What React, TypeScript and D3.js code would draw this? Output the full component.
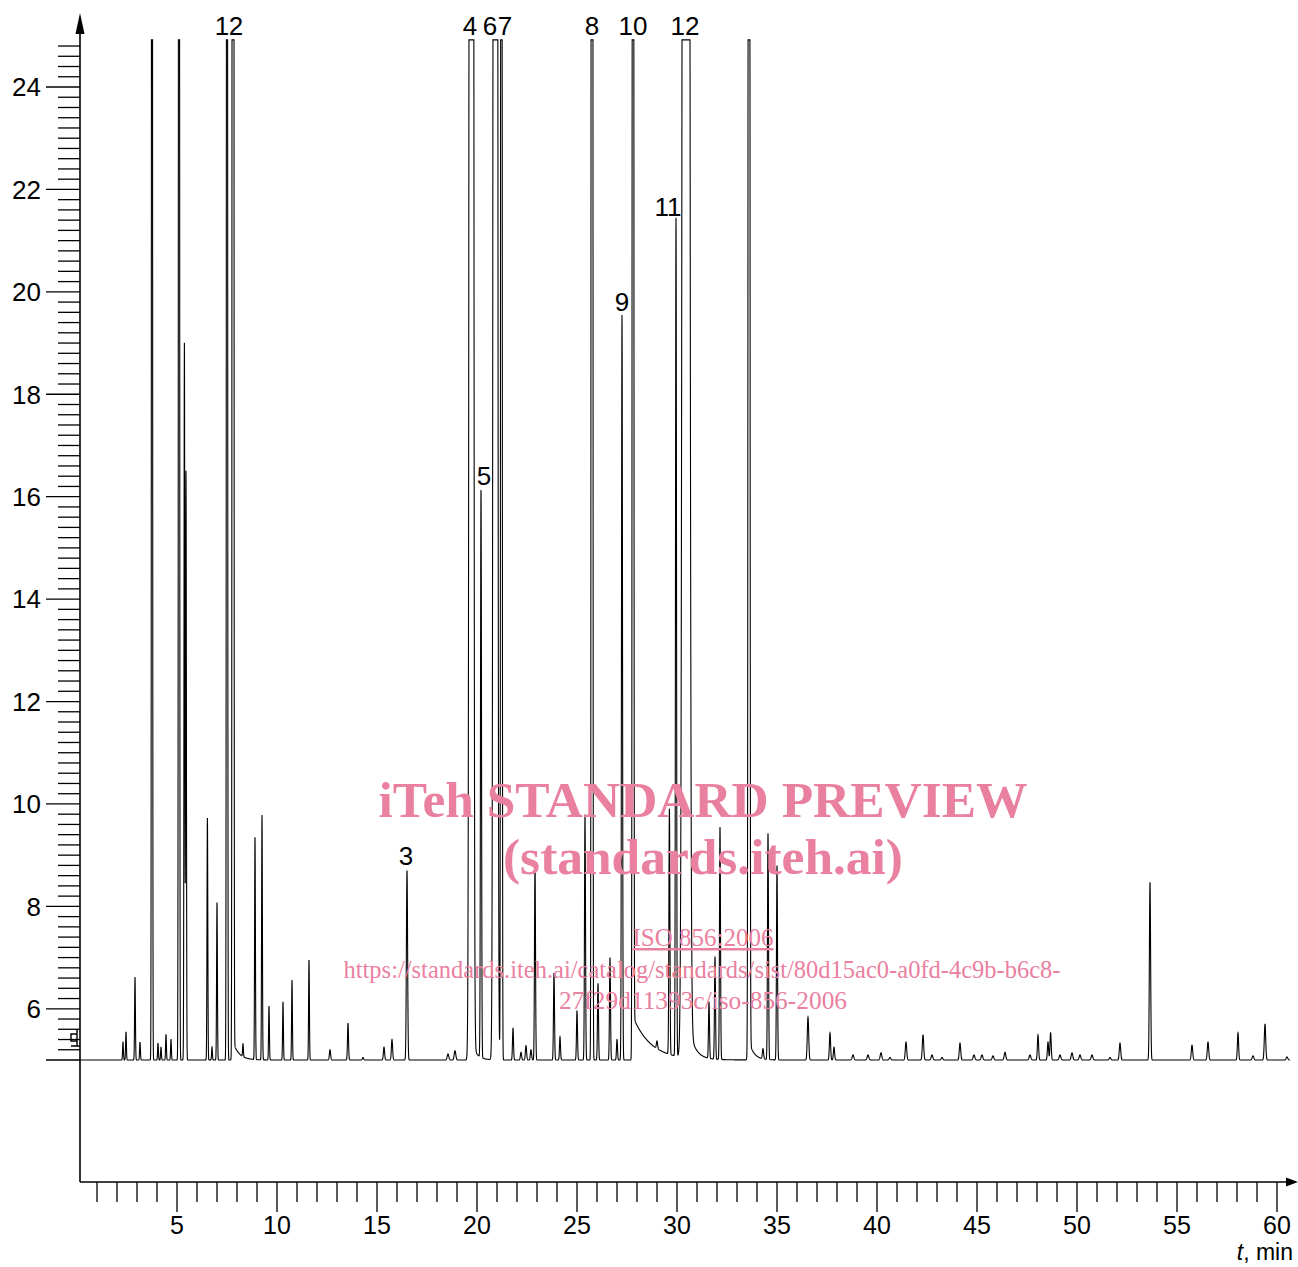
import React, { useEffect, useRef } from 'react';
import * as d3 from 'd3';

const WIDTH = 1298;
const HEIGHT = 1267;

// chromatogram peaks: [retention time (min), peak top (signal), sigma (min)]
const baseline = 5.0;
const clipTop = 24.92;
const peaks = [
  [2.3, 5.35, 0.02], [2.45, 5.55, 0.02], [2.9, 6.62, 0.02], [3.15, 5.35, 0.02],
  [3.75, 60, 0.02], [4.05, 5.33, 0.02], [4.2, 5.25, 0.02], [4.45, 5.5, 0.02],
  [4.7, 5.4, 0.02], [5.1, 60, 0.022], [5.37, 19.0, 0.02], [5.45, 16.5, 0.02],
  [6.52, 9.74, 0.02], [6.75, 5.25, 0.02], [7.0, 8.08, 0.02], [7.5, 60, 0.022],
  [7.8, 200, 0.024], [8.3, 5.25, 0.02], [8.9, 9.35, 0.02], [9.25, 9.78, 0.02],
  [9.6, 6.05, 0.02], [10.3, 6.13, 0.02], [10.75, 6.56, 0.02], [11.6, 6.95, 0.02],
  [12.65, 5.2, 0.03], [13.55, 5.72, 0.025], [14.3, 5.05, 0.03], [15.35, 5.25, 0.03],
  [15.75, 5.4, 0.03], [16.5, 8.7, 0.03], [18.55, 5.12, 0.04], [18.9, 5.18, 0.04],
  [19.72, 200, 0.058], [20.2, 16.1, 0.025], [20.92, 200, 0.058], [21.22, 80, 0.025],
  [21.8, 5.62, 0.025], [22.2, 5.15, 0.03], [22.45, 5.28, 0.03], [22.7, 5.2, 0.03],
  [22.9, 8.84, 0.025], [23.85, 6.7, 0.025], [24.15, 5.45, 0.025], [25.0, 5.96, 0.025],
  [25.4, 9.8, 0.025], [25.75, 200, 0.023], [26.05, 6.5, 0.025], [26.65, 7.0, 0.025],
  [27.0, 5.4, 0.025], [27.25, 19.55, 0.025], [27.8, 100, 0.025], [29.0, 5.15, 0.03],
  [29.62, 9.8, 0.025], [29.95, 21.37, 0.025], [30.45, 200, 0.094], [31.6, 6.1, 0.025],
  [31.9, 7.0, 0.025], [32.15, 9.54, 0.025], [33.6, 80, 0.03], [34.3, 5.2, 0.03],
  [34.55, 9.42, 0.025], [35.0, 8.8, 0.025], [36.55, 5.84, 0.035], [37.65, 5.53, 0.03],
  [37.85, 5.25, 0.03], [38.8, 5.1, 0.04], [39.55, 5.1, 0.04], [40.2, 5.14, 0.04],
  [40.65, 5.05, 0.04], [41.45, 5.35, 0.035], [42.3, 5.49, 0.035], [42.75, 5.1, 0.04],
  [43.25, 5.05, 0.04], [44.15, 5.33, 0.035], [44.85, 5.1, 0.04], [45.25, 5.1, 0.04],
  [45.8, 5.08, 0.04], [46.4, 5.15, 0.04], [47.65, 5.1, 0.04], [48.05, 5.49, 0.03],
  [48.55, 5.35, 0.03], [48.68, 5.53, 0.03], [49.15, 5.1, 0.04], [49.75, 5.14, 0.04],
  [50.15, 5.1, 0.04], [50.75, 5.1, 0.04], [51.65, 5.05, 0.04], [52.15, 5.33, 0.035],
  [53.65, 8.47, 0.03], [55.75, 5.29, 0.035], [56.55, 5.35, 0.035], [58.05, 5.53, 0.03],
  [58.8, 5.08, 0.04], [59.4, 5.7, 0.035], [60.5, 5.06, 0.04],
];

// slow tails behind the big peaks: [start (min), height, decay (min)]
const tails = [
  [7.85, 0.3, 0.3], [19.76, 0.3, 0.25], [27.85, 0.8, 0.9], [30.6, 0.6, 0.3], [33.65, 0.3, 0.25],
];

const traceStart = 0.15;
const traceEnd = 60.65;

const yMajorTicks = [6, 8, 10, 12, 14, 16, 18, 20, 22, 24];
const xMajorTicks = [5, 10, 15, 20, 25, 30, 35, 40, 45, 50, 55, 60];

// peak number labels: [text, time, signal]
const peakLabels = [
  ['1', 7.25, 25.02], ['2', 7.95, 25.02], ['3', 16.45, 8.81], ['4', 19.65, 25.02],
  ['5', 20.35, 16.23], ['6', 20.65, 25.02], ['7', 21.4, 25.02], ['8', 25.75, 25.02],
  ['9', 27.25, 19.63], ['10', 27.8, 25.02], ['11', 29.55, 21.48], ['12', 30.4, 25.02],
];

const Chromatogram = () => {
  const svgRef = useRef(null);

  useEffect(() => {
    const svg = d3.select(svgRef.current);
    svg.selectAll('*').remove();

    const x = d3.scaleLinear().domain([0, 60]).range([77, 1277]);
    const y = d3.scaleLinear().domain([5, 24]).range([1060, 87]);
    const axisX = 80;
    const axisY = 1182;
    const font = 'Liberation Sans, Arial, sans-serif';

    // signal at time t
    const signal = (t) => {
      let v = baseline;
      peaks.forEach(([t0, top, s]) => {
        const d = t - t0;
        if (Math.abs(d) < 8 * s) v += (top - baseline) * Math.exp(-(d * d) / (2 * s * s));
      });
      tails.forEach(([t0, h, tau]) => {
        if (t >= t0) v += h * Math.exp(-(t - t0) / tau);
      });
      return Math.min(v, clipTop);
    };

    const times = d3.range(traceStart, traceEnd, 0.004);
    const line = d3.line()
      .x(t => x(t))
      .y(t => y(signal(t)));

    svg.append('path')
      .datum(times)
      .attr('d', line)
      .attr('fill', 'none')
      .attr('stroke', '#000')
      .attr('stroke-width', 1.1);

    // y axis
    const g = svg.append('g').attr('stroke', '#000');
    g.append('line')
      .attr('x1', axisX).attr('x2', axisX)
      .attr('y1', axisY).attr('y2', 30)
      .attr('stroke-width', 1.6);
    svg.append('path')
      .attr('d', `M${axisX - 4.5},34 L${axisX},13 L${axisX + 4.5},34 Z`)
      .attr('fill', '#000');

    const minorY = d3.range(5.2, 24.81, 0.2).filter(v => Math.abs(v - Math.round(v / 2) * 2) > 0.01);
    minorY.forEach(v => {
      g.append('line')
        .attr('x1', 58).attr('x2', axisX)
        .attr('y1', y(v)).attr('y2', y(v))
        .attr('stroke-width', 1.3);
    });
    [5, ...yMajorTicks].forEach(v => {
      g.append('line')
        .attr('x1', 46).attr('x2', axisX)
        .attr('y1', y(v)).attr('y2', y(v))
        .attr('stroke-width', 1.3);
    });
    svg.append('g')
      .selectAll('text')
      .data(yMajorTicks)
      .enter()
      .append('text')
      .attr('x', 41)
      .attr('y', d => y(d))
      .attr('dy', '0.36em')
      .attr('text-anchor', 'end')
      .attr('font-family', font)
      .attr('font-size', 26)
      .text(d => d);

    // injection mark at the start of the run
    svg.append('path')
      .attr('d', `M${axisX - 3},1046 L${axisX - 3},1030 M${axisX - 9},1046 L${axisX},1046 M${axisX - 9},1034 L${axisX - 3},1034 L${axisX - 3},1041 L${axisX - 9},1041 Z`)
      .attr('fill', 'none')
      .attr('stroke', '#000')
      .attr('stroke-width', 1.4);

    // x axis
    g.append('line')
      .attr('x1', axisX).attr('x2', 1288)
      .attr('y1', axisY).attr('y2', axisY)
      .attr('stroke-width', 1.6);
    svg.append('path')
      .attr('d', `M1286,${axisY - 4.5} L1298,${axisY} L1286,${axisY + 4.5} Z`)
      .attr('fill', '#000');
    d3.range(1, 61).forEach(t => {
      const major = t % 5 === 0;
      g.append('line')
        .attr('x1', x(t)).attr('x2', x(t))
        .attr('y1', axisY).attr('y2', major ? 1212 : 1202)
        .attr('stroke-width', 1.3);
    });
    svg.append('g')
      .selectAll('text')
      .data(xMajorTicks)
      .enter()
      .append('text')
      .attr('x', d => x(d))
      .attr('y', 1234)
      .attr('text-anchor', 'middle')
      .attr('font-family', font)
      .attr('font-size', 25)
      .text(d => d);

    const unit = svg.append('text')
      .attr('x', 1293)
      .attr('y', 1260)
      .attr('text-anchor', 'end')
      .attr('font-family', font)
      .attr('font-size', 23);
    unit.append('tspan').attr('font-style', 'italic').text('t');
    unit.append('tspan').text(', min');

    // peak numbers
    svg.append('g')
      .selectAll('text')
      .data(peakLabels)
      .enter()
      .append('text')
      .attr('x', d => x(d[1]))
      .attr('y', d => y(d[2]))
      .attr('text-anchor', 'middle')
      .attr('font-family', font)
      .attr('font-size', 26)
      .text(d => d[0]);

    // watermark
    const pink = 'rgb(234,128,160)';
    const wm = svg.append('g')
      .attr('fill', pink)
      .attr('font-family', 'Liberation Serif, Times New Roman, serif')
      .attr('text-anchor', 'middle');
    wm.append('text')
      .attr('x', 703).attr('y', 817)
      .attr('font-size', 51).attr('font-weight', 'bold')
      .attr('textLength', 649).attr('lengthAdjust', 'spacingAndGlyphs')
      .text('iTeh STANDARD PREVIEW');
    wm.append('text')
      .attr('x', 703).attr('y', 874)
      .attr('font-size', 51).attr('font-weight', 'bold')
      .attr('textLength', 400).attr('lengthAdjust', 'spacingAndGlyphs')
      .text('(standards.iteh.ai)');
    wm.append('text')
      .attr('x', 703).attr('y', 946)
      .attr('font-size', 25)
      .attr('text-decoration', 'underline')
      .attr('textLength', 141).attr('lengthAdjust', 'spacingAndGlyphs')
      .text('ISO 856:2006');
    wm.append('text')
      .attr('x', 702).attr('y', 978)
      .attr('font-size', 25)
      .attr('textLength', 717).attr('lengthAdjust', 'spacingAndGlyphs')
      .text('https://standards.iteh.ai/catalog/standards/sist/80d15ac0-a0fd-4c9b-b6c8-');
    wm.append('text')
      .attr('x', 703).attr('y', 1009)
      .attr('font-size', 25)
      .attr('textLength', 288).attr('lengthAdjust', 'spacingAndGlyphs')
      .text('27f29d11393c/iso-856-2006');
  }, []);

  return (
    <svg
      ref={svgRef}
      width={WIDTH}
      height={HEIGHT}
      style={{ position: 'absolute', left: 0, top: 0, background: '#fff' }}
    />
  );
};

export default function App() {
  return <Chromatogram />;
}
